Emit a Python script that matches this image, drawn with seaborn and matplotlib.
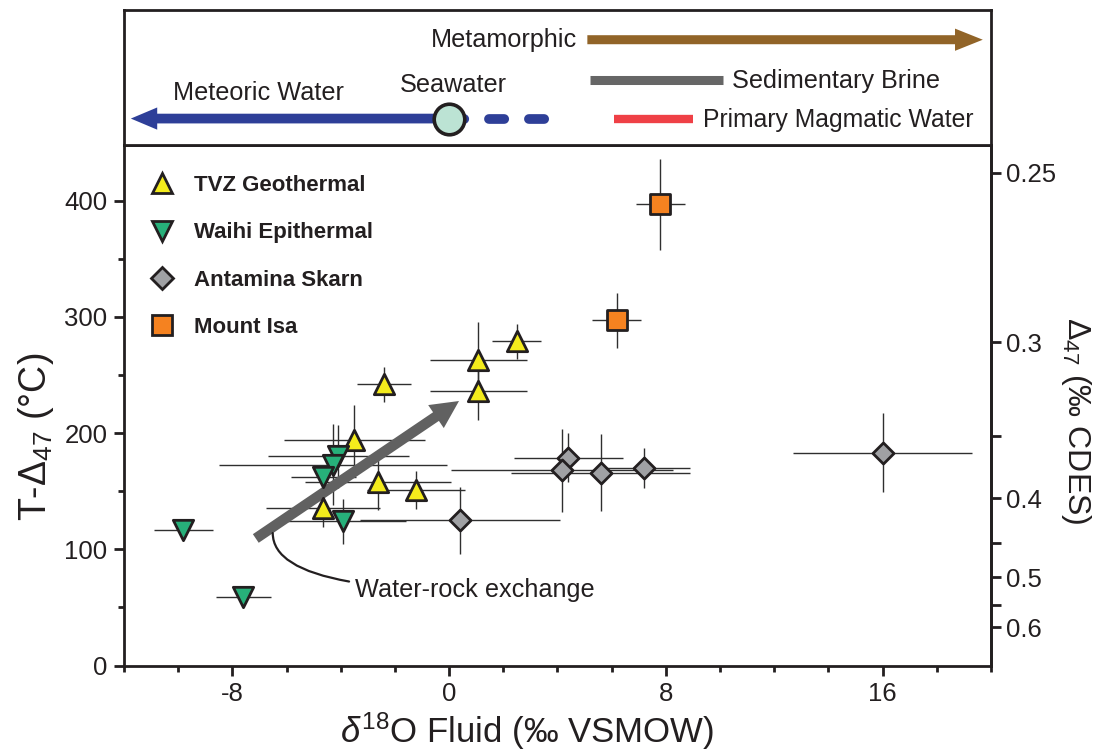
import matplotlib

matplotlib.use("Agg")
import matplotlib.pyplot as plt
import numpy as np
import pandas as pd
import seaborn as sns
from matplotlib.lines import Line2D
from matplotlib.patches import FancyArrowPatch
from matplotlib.ticker import FixedLocator, MultipleLocator

# ---------------------------------------------------------------------------
# Data
# ---------------------------------------------------------------------------
tvz_d18o = [2.50, 1.08, 1.08, -2.40, -3.50, -2.63, -1.22, -4.64]
tvz_temp = [279, 263, 236, 242, 194, 158, 151, 136]
tvz_d18o_err = [0.9, 1.8, 1.8, 1.0, 2.6, 2.7, 1.8, 2.1]
tvz_temp_err = [15, 33, 25, 15, 30, 24, 16, 17]

waihi_d18o = [-9.81, -7.59, -3.90, -4.09, -4.29, -4.64]
waihi_temp = [117, 59, 124, 180, 173, 162]
waihi_d18o_err = [1.1, 1.0, 2.3, 2.6, 4.2, 1.2]
waihi_temp_err = [0, 0, 19, 27, 35, 8]

antamina_d18o = [0.41, 4.40, 4.18, 5.60, 7.20, 16.0]
antamina_temp = [125, 179, 168, 166, 170, 183]
antamina_d18o_err = [3.7, 2.0, 4.1, 3.3, 1.7, 3.3]
antamina_temp_err = [29, 21, 36, 33, 17, 34]

isa_d18o = [7.79, 6.19]
isa_temp = [397, 297]
isa_d18o_err = [0.9, 0.9]
isa_temp_err = [39, 24]

group_names = ["TVZ Geothermal", "Waihi Epithermal", "Antamina Skarn", "Mount Isa"]

# fluid reservoirs for the top strip (d18O, permil VSMOW)
meteoric_range = (0.0, -11.85)
seawater_d18o = 0.0
seawater_dash_end = 3.9
metamorphic_range = (5.0, 19.8)
brine_range = (5.2, 10.1)
magmatic_range = (6.1, 9.0)

# water-rock exchange trend arrow
exchange_start = (-7.22, 108)
exchange_end = (0.45, 229)
exchange_label_xy = (-3.47, 65)
exchange_anchor = (-6.51, 114)

# Delta47 - temperature calibration used for the right axis
D47_A = 0.0406e6
D47_B = 0.1665
d47_major = [0.25, 0.3, 0.4, 0.5, 0.6]
d47_minor = [0.35, 0.45, 0.55]

# ---------------------------------------------------------------------------
# Style
# ---------------------------------------------------------------------------
sns.set_style("ticks")
plt.rcParams["font.family"] = ["Liberation Sans", "DejaVu Sans"]
plt.rcParams["mathtext.fontset"] = "custom"
plt.rcParams["mathtext.rm"] = "Liberation Sans"
plt.rcParams["mathtext.it"] = "Liberation Sans:italic"
plt.rcParams["mathtext.bf"] = "Liberation Sans:bold"
plt.rcParams["axes.unicode_minus"] = False
plt.rcParams["text.color"] = "#231f20"
plt.rcParams["axes.labelcolor"] = "#231f20"

EDGE = "#231f20"
SPINE_W = 2.0
TICK_FS = 18.5
NOTE_FS = 18.2


def temp_to_d47(t):
    t = np.asarray(t, dtype=float)
    return D47_A / (t + 273.15) ** 2 + D47_B


def d47_to_temp(d):
    d = np.asarray(d, dtype=float)
    return np.sqrt(D47_A / np.clip(d - D47_B, 1e-6, None)) - 273.15


groups = {
    "TVZ Geothermal": dict(x=tvz_d18o, y=tvz_temp, xe=tvz_d18o_err, ye=tvz_temp_err,
                           marker="^", s=215, color="#f4ec1c"),
    "Waihi Epithermal": dict(x=waihi_d18o, y=waihi_temp, xe=waihi_d18o_err, ye=waihi_temp_err,
                             marker="v", s=215, color="#27b07a"),
    "Antamina Skarn": dict(x=antamina_d18o, y=antamina_temp, xe=antamina_d18o_err,
                           ye=antamina_temp_err, marker="D", s=115, color="#a0a1a4"),
    "Mount Isa": dict(x=isa_d18o, y=isa_temp, xe=isa_d18o_err, ye=isa_temp_err,
                      marker="s", s=200, color="#f58220"),
}

fig = plt.figure(figsize=(11.07, 7.53), dpi=100)
ax = fig.add_axes([0.112, 0.1162, 0.7832, 0.6912])
ax_top = fig.add_axes([0.112, 0.8074, 0.7832, 0.1793])

# ---------------------------------------------------------------------------
# Main panel
# ---------------------------------------------------------------------------
for name in group_names:
    g = groups[name]
    ax.errorbar(g["x"], g["y"], xerr=g["xe"], yerr=g["ye"], fmt="none",
                ecolor="#2f2f2f", elinewidth=1.0, capsize=0, zorder=2)

arrow = FancyArrowPatch(exchange_start, exchange_end,
                        arrowstyle="simple,head_length=20,head_width=20,tail_width=7.5",
                        mutation_scale=1, color="#616161", lw=0, zorder=3)
ax.add_patch(arrow)

for name in group_names:
    g = groups[name]
    df = pd.DataFrame({"d18o": g["x"], "temp": g["y"]})
    sns.scatterplot(data=df, x="d18o", y="temp", ax=ax, marker=g["marker"], s=g["s"],
                    color=g["color"], edgecolor=EDGE, linewidth=2.0, zorder=4, legend=False)

ax.annotate("Water-rock exchange", xy=exchange_anchor, xytext=exchange_label_xy,
            ha="left", va="center", fontsize=NOTE_FS,
            arrowprops=dict(arrowstyle="-", color=EDGE, lw=1.6, shrinkA=2, shrinkB=0,
                            connectionstyle="angle3,angleA=0,angleB=90"))

ax.set_xlim(-12, 20)
ax.set_ylim(0, 448)
ax.xaxis.set_major_locator(FixedLocator([-8, 0, 8, 16]))
ax.xaxis.set_minor_locator(MultipleLocator(2))
ax.yaxis.set_major_locator(MultipleLocator(100))
ax.yaxis.set_minor_locator(MultipleLocator(50))
ax.tick_params(which="major", direction="out", length=7, width=SPINE_W, labelsize=TICK_FS,
               colors=EDGE, pad=5)
ax.tick_params(which="minor", direction="out", length=4, width=SPINE_W, colors=EDGE)
for sp in ax.spines.values():
    sp.set_linewidth(SPINE_W)
    sp.set_color(EDGE)
    sp.set_visible(True)

ax.set_xlabel(r"$\delta^{18}$O Fluid (‰ VSMOW)", fontsize=25, x=0.465, labelpad=3)
ax.set_ylabel(r"T-$\Delta_{47}$ ($\degree$C)", fontsize=27, y=0.44, labelpad=6)

sec = ax.secondary_yaxis("right", functions=(temp_to_d47, d47_to_temp))
sec.yaxis.set_major_locator(FixedLocator(d47_major))
sec.yaxis.set_minor_locator(FixedLocator(d47_minor))
sec.yaxis.set_major_formatter(plt.FuncFormatter(lambda v, p: f"{v:g}"))
sec.tick_params(which="major", direction="out", length=7, width=SPINE_W, labelsize=TICK_FS,
                colors=EDGE, pad=4)
sec.tick_params(which="minor", direction="out", length=7, width=SPINE_W, colors=EDGE)
sec.spines["right"].set_linewidth(SPINE_W)
sec.set_ylabel(r"$\Delta_{47}$ (‰ CDES)", fontsize=23, rotation=270, y=0.47, labelpad=26)

handles = [
    Line2D([], [], ls="none", marker=groups[n]["marker"],
           markersize=np.sqrt(groups[n]["s"]), markerfacecolor=groups[n]["color"],
           markeredgecolor=EDGE, markeredgewidth=2.0, label=n)
    for n in group_names
]
ax.legend(handles=handles, loc="upper left", bbox_to_anchor=(0.0, 0.985), frameon=False,
          prop={"weight": "bold", "size": 16}, handlelength=1.4, handletextpad=0.75,
          labelspacing=1.18, borderaxespad=0.6)

# ---------------------------------------------------------------------------
# Top strip: fluid reservoirs
# ---------------------------------------------------------------------------
ax_top.set_xlim(-12, 20)
ax_top.set_ylim(0, 1)
ax_top.set_xticks([])
ax_top.set_yticks([])
for sp in ax_top.spines.values():
    sp.set_linewidth(SPINE_W)
    sp.set_color(EDGE)
    sp.set_visible(True)

y_low, y_mid, y_high = 0.196, 0.485, 0.78

ax_top.add_patch(FancyArrowPatch((meteoric_range[0], y_low), (meteoric_range[1], y_low),
                                 arrowstyle="simple,head_length=19,head_width=16,tail_width=7",
                                 mutation_scale=1, color="#2e3f98", lw=0, zorder=2))
ax_top.plot([seawater_d18o, seawater_dash_end], [y_low, y_low], color="#2e3f98", lw=7,
            dashes=(1.57, 2.54), dash_capstyle="round", zorder=2)
ax_top.plot([seawater_d18o], [y_low], "o", ms=22, mfc="#bce3d4", mec=EDGE, mew=2.6, zorder=5)

ax_top.add_patch(FancyArrowPatch((metamorphic_range[0], y_high), (metamorphic_range[1], y_high),
                                 arrowstyle="simple,head_length=20,head_width=16,tail_width=6.5",
                                 mutation_scale=1, color="#916428", lw=0, zorder=2))
ax_top.plot(list(brine_range), [y_mid, y_mid], color="#666666", lw=6.5, solid_capstyle="butt")
ax_top.plot(list(magmatic_range), [y_low, y_low], color="#ef4046", lw=6, solid_capstyle="butt")

ax_top.text(4.72, y_high, "Metamorphic", ha="right", va="center", fontsize=NOTE_FS)
ax_top.text(10.44, 0.474, "Sedimentary Brine", ha="left", va="center", fontsize=NOTE_FS)
ax_top.text(9.37, 0.185, "Primary Magmatic Water", ha="left", va="center", fontsize=17.8)
ax_top.text(-7.05, 0.385, "Meteoric Water", ha="center", va="center", fontsize=NOTE_FS)
ax_top.text(0.15, 0.444, "Seawater", ha="center", va="center", fontsize=NOTE_FS)

fig.savefig("out.png", dpi=100)
